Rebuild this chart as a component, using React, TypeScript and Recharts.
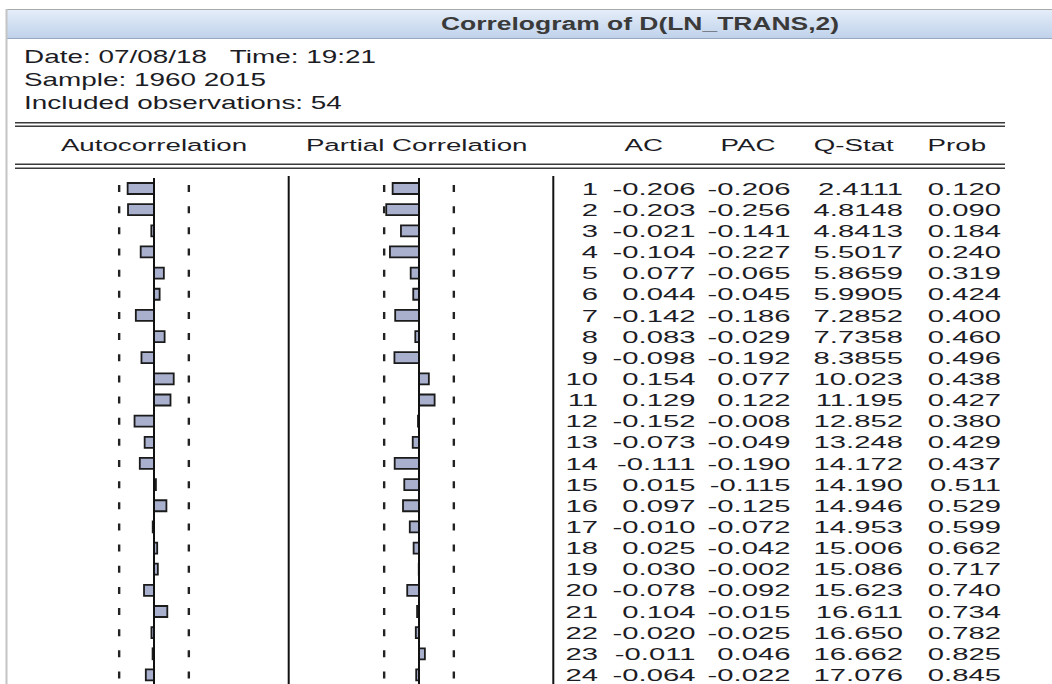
import React from "react";
import { BarChart, Bar, XAxis, YAxis, ReferenceLine } from "recharts";

// correlogram values
const lags = [1, 2, 3, 4, 5, 6, 7, 8, 9, 10, 11, 12, 13, 14, 15, 16, 17, 18, 19, 20, 21, 22, 23, 24];
const acValues = [
  -0.206, -0.203, -0.021, -0.104, 0.077, 0.044, -0.142, 0.083, -0.098, 0.154, 0.129, -0.152,
  -0.073, -0.111, 0.015, 0.097, -0.01, 0.025, 0.03, -0.078, 0.104, -0.02, -0.011, -0.064,
];
const pacValues = [
  -0.206, -0.256, -0.141, -0.227, -0.065, -0.045, -0.186, -0.029, -0.192, 0.077, 0.122, -0.008,
  -0.049, -0.19, -0.115, -0.125, -0.072, -0.042, -0.002, -0.092, -0.015, -0.025, 0.046, -0.022,
];
const qStats = [
  2.4111, 4.8148, 4.8413, 5.5017, 5.8659, 5.9905, 7.2852, 7.7358, 8.3855, 10.023, 11.195, 12.852,
  13.248, 14.172, 14.19, 14.946, 14.953, 15.006, 15.086, 15.623, 16.611, 16.65, 16.662, 17.076,
];
const probs = [
  0.12, 0.09, 0.184, 0.24, 0.319, 0.424, 0.4, 0.46, 0.496, 0.438, 0.427, 0.38,
  0.429, 0.437, 0.511, 0.529, 0.599, 0.662, 0.717, 0.74, 0.734, 0.782, 0.825, 0.845,
];
const infoLines = ["Date: 07/08/18   Time: 19:21", "Sample: 1960 2015", "Included observations: 54"];
const observations = 54;

const rows = lags.map((lag, i) => ({
  lag,
  ac: acValues[i],
  pac: pacValues[i],
  q: qStats[i],
  prob: probs[i],
}));

const bound = 2 / Math.sqrt(observations);
const FONT = "'Liberation Sans', Arial, sans-serif";
const INK = "#1c1c24";
const ROW_H = 21.15;
const TOP = 178;
const CHART_H = ROW_H * lags.length;
const HALF = 128; // px for a correlation of 1

function SText({ x, y, anchor = "start", size = 17, sx = 1.6, weight = 400, color = INK, children }: any) {
  return (
    <text
      transform={`translate(${x} ${y}) scale(${sx} 1)`}
      textAnchor={anchor}
      dominantBaseline="central"
      fontSize={size}
      fontWeight={weight}
      fontFamily={FONT}
      fill={color}
      style={{ whiteSpace: "pre" }}
    >
      {children}
    </text>
  );
}

function CorrPanel({ dataKey, zeroX }: { dataKey: string; zeroX: number }) {
  return (
    <div style={{ position: "absolute", left: zeroX - HALF, top: TOP }}>
      <BarChart
        width={HALF * 2}
        height={CHART_H}
        data={rows}
        layout="vertical"
        margin={{ top: 0, right: 0, bottom: 0, left: 0 }}
      >
        <XAxis type="number" domain={[-1, 1]} hide />
        <YAxis type="category" dataKey="lag" hide />
        <Bar
          dataKey={dataKey}
          barSize={11}
          fill="#a9b0cd"
          stroke="#1b1b1b"
          strokeWidth={1.8}
          isAnimationActive={false}
        />
        <ReferenceLine x={0} stroke="#111" strokeWidth={2} />
        {[-bound, bound].map((b) => (
          <ReferenceLine
            key={b}
            x={b}
            stroke="#222"
            strokeWidth={2.4}
            strokeDasharray={`7 ${ROW_H - 7}`}
            strokeDashoffset={ROW_H - (ROW_H - 7) / 2}
          />
        ))}
      </BarChart>
    </div>
  );
}

const TABLE_LEFT = 553;
const colLag = 598 - TABLE_LEFT;
const colAc = 695.5 - TABLE_LEFT;
const colPac = 790.5 - TABLE_LEFT;
const colQ = 903 - TABLE_LEFT;
const colProb = 1001 - TABLE_LEFT;

function RowTick(props: any) {
  const { y, index } = props;
  const r = rows[index];
  if (!r) return null;
  const s = { size: 17, sx: 1.72, anchor: "end" };
  return (
    <g>
      <SText {...s} x={colLag} y={y}>{String(r.lag)}</SText>
      <SText {...s} x={colAc} y={y}>{r.ac.toFixed(3)}</SText>
      <SText {...s} x={colPac} y={y}>{r.pac.toFixed(3)}</SText>
      <SText {...s} x={colQ} y={y}>{r.q.toPrecision(5)}</SText>
      <SText {...s} x={colProb} y={y}>{r.prob.toFixed(3)}</SText>
    </g>
  );
}

function StatsTable() {
  return (
    <div style={{ position: "absolute", left: TABLE_LEFT, top: TOP }}>
      <BarChart
        width={1052 - TABLE_LEFT}
        height={CHART_H}
        data={rows}
        layout="vertical"
        margin={{ top: 0, right: 0, bottom: 0, left: 0 }}
      >
        <XAxis type="number" domain={[0, 1]} hide />
        <YAxis
          type="category"
          dataKey="lag"
          width={1}
          interval={0}
          axisLine={false}
          tickLine={false}
          tick={(p: any) => <RowTick {...p} />}
        />
        {/* invisible series so the category axis gets its rows */}
        <Bar dataKey="prob" fill="none" stroke="none" isAnimationActive={false} />
      </BarChart>
    </div>
  );
}

export default function App() {
  return (
    <div
      style={{
        position: "absolute",
        left: 0,
        top: 0,
        width: 1052,
        height: 684,
        overflow: "hidden",
        background: "#fff",
      }}
    >
      <svg width={1052} height={684} style={{ position: "absolute", left: 0, top: 0 }}>
        <defs>
          <linearGradient id="titleGrad" x1="0" y1="0" x2="0" y2="1">
            <stop offset="0%" stopColor="#e6eef9" />
            <stop offset="100%" stopColor="#bed1ea" />
          </linearGradient>
        </defs>
        <rect x={7} y={9} width={1045} height={30} fill="url(#titleGrad)" />
        <line x1={7} y1={9.5} x2={1052} y2={9.5} stroke="#a9a9a9" strokeWidth={1} />
        <line x1={7} y1={38.5} x2={1052} y2={38.5} stroke="#97a8bf" strokeWidth={1} />
        <line x1={6.5} y1={9} x2={6.5} y2={684} stroke="#c4c4c4" strokeWidth={2} />
        <SText x={640} y={24.5} anchor="middle" size={18} sx={1.47} weight={700} color="#3a3a3a">
          Correlogram of D(LN_TRANS,2)
        </SText>

        {infoLines.map((t, i) => (
          <SText key={t} x={24} y={57 + i * 23} size={18} sx={1.55}>
            {t}
          </SText>
        ))}

        <line x1={15} y1={122.7} x2={1005} y2={122.7} stroke="#3a3a3a" strokeWidth={1.6} />
        <line x1={15} y1={126.3} x2={1005} y2={126.3} stroke="#3a3a3a" strokeWidth={1.4} />
        <line x1={15} y1={164.3} x2={1005} y2={164.3} stroke="#3a3a3a" strokeWidth={1.6} />
        <line x1={15} y1={168.3} x2={1005} y2={168.3} stroke="#3a3a3a" strokeWidth={1.4} />

        <SText x={154} y={145.5} anchor="middle" sx={1.63}>Autocorrelation</SText>
        <SText x={416.7} y={145.5} anchor="middle" sx={1.63}>Partial Correlation</SText>
        <SText x={643.8} y={145.5} anchor="middle" sx={1.63}>AC</SText>
        <SText x={748} y={145.5} anchor="middle" sx={1.63}>PAC</SText>
        <SText x={853.8} y={145.5} anchor="middle" sx={1.63}>Q-Stat</SText>
        <SText x={956.8} y={145.5} anchor="middle" sx={1.63}>Prob</SText>

        <line x1={288.7} y1={176} x2={288.7} y2={684} stroke="#111" strokeWidth={2} />
        <line x1={553.3} y1={176} x2={553.3} y2={684} stroke="#111" strokeWidth={2} />
      </svg>

      <CorrPanel dataKey="ac" zeroX={154.3} />
      <CorrPanel dataKey="pac" zeroX={419} />
      <StatsTable />
    </div>
  );
}
